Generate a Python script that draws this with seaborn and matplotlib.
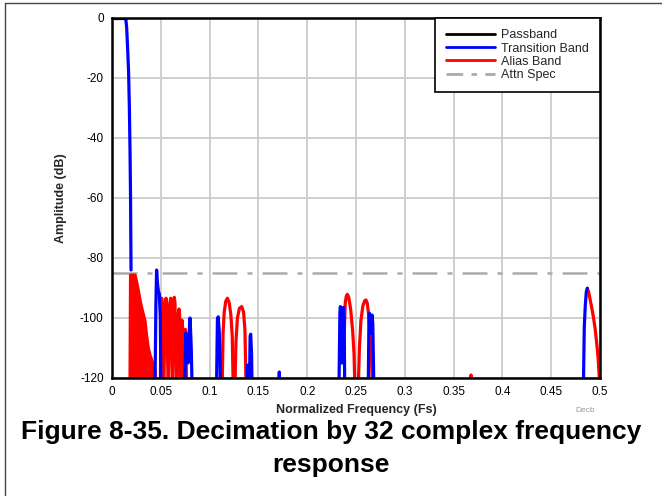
import numpy as np
import matplotlib
matplotlib.use("Agg")
import matplotlib.pyplot as plt
from matplotlib.lines import Line2D
import seaborn as sns

# frequency (Fs) / amplitude (dB) values
passband_f = [0.0, 0.0140]
passband_db = [0.0, 0.0]

# transition band pieces (blue)
trans_main_f = [0.0140, 0.0150, 0.0160, 0.0170, 0.0178, 0.0185, 0.0190, 0.0195]
trans_main_db = [0.0, -3.0, -10.0, -18.0, -30.0, -45.0, -60.0, -84.0]

trans_a_f = [0.0440, 0.0450, 0.0457, 0.0465, 0.0475, 0.0485, 0.0495, 0.0502]
trans_a_db = [-125.0, -95.0, -84.0, -88.0, -91.0, -92.0, -100.0, -125.0]

trans_b_f = [0.0745, 0.0755, 0.0765, 0.0780, 0.0790, 0.0800, 0.0812, 0.0822]
trans_b_db = [-125.0, -105.0, -106.0, -115.0, -105.0, -100.0, -110.0, -125.0]

trans_c_f = [0.1070, 0.1080, 0.1088, 0.1098, 0.1105, 0.1112]
trans_c_db = [-125.0, -100.5, -99.6, -104.0, -110.0, -125.0]

trans_d_f = [0.1384, 0.1388, 0.1392, 0.1408, 0.1415, 0.1421, 0.1430, 0.1436]
trans_d_db = [-125.0, -115.7, -125.0, -125.0, -106.0, -105.4, -112.0, -125.0]

trans_e_f = [0.1708, 0.1714, 0.1720]
trans_e_db = [-125.0, -118.0, -125.0]

trans_f_f = [0.2325, 0.2335, 0.2340, 0.2348, 0.2355, 0.2362, 0.2370, 0.2378, 0.2385]
trans_f_db = [-125.0, -98.0, -96.2, -100.0, -115.0, -102.0, -96.5, -100.0, -125.0]

trans_g_f = [0.2625, 0.2633, 0.2638, 0.2645, 0.2655, 0.2665, 0.2672, 0.2684]
trans_g_db = [-125.0, -99.0, -98.4, -105.0, -105.0, -99.0, -102.0, -125.0]

trans_h_f = [0.4829, 0.4839, 0.4849, 0.4860, 0.4870]
trans_h_db = [-125.0, -103.0, -96.0, -91.2, -90.1]

# alias band pieces (red)
alias_dense_f = [0.0184, 0.0190, 0.0236, 0.0252, 0.0269, 0.0293, 0.0314, 0.0338,
                 0.0355, 0.0372, 0.0389, 0.0407, 0.0424, 0.0441, 0.0445]
alias_dense_db = [-125.0, -85.7, -85.7, -87.9, -90.7, -95.0, -97.9, -101.0,
                  -106.0, -110.0, -112.3, -114.0, -116.0, -117.3, -125.0]

alias_a_f = [0.0495, 0.0502, 0.0509, 0.0516, 0.0530,
             0.0546, 0.0553, 0.0560, 0.0576,
             0.0594, 0.0601, 0.0608, 0.0620,
             0.0632, 0.0638, 0.0645, 0.0662,
             0.0680, 0.0686, 0.0692, 0.0702,
             0.0712, 0.0717, 0.0722, 0.0734,
             0.0746, 0.0751, 0.0756, 0.0765]
alias_a_db = [-125.0, -95.0, -93.4, -95.0, -125.0,
              -95.0, -93.4, -95.0, -125.0,
              -95.0, -93.4, -95.0, -125.0,
              -94.7, -93.1, -94.7, -125.0,
              -98.5, -97.0, -98.5, -125.0,
              -102.0, -100.7, -102.0, -125.0,
              -105.0, -103.8, -105.0, -125.0]

alias_b_f = [0.1128, 0.1138, 0.1150, 0.1165, 0.1182, 0.1200, 0.1218, 0.1232, 0.1243]
alias_b_db = [-125.0, -105.0, -98.0, -94.5, -93.4, -94.8, -99.0, -106.0, -125.0]

alias_c_f = [0.1258, 0.1270, 0.1285, 0.1305, 0.1329, 0.1348, 0.1362, 0.1375]
alias_c_db = [-125.0, -108.0, -100.0, -96.8, -96.2, -98.0, -104.0, -125.0]

alias_d_f = [0.2375, 0.2390, 0.2400, 0.2411, 0.2425, 0.2445, 0.2465, 0.2480, 0.2490]
alias_d_db = [-110.0, -95.0, -92.8, -92.1, -93.0, -97.0, -104.0, -112.0, -125.0]

alias_e_f = [0.2522, 0.2535, 0.2550, 0.2570, 0.2590, 0.2602, 0.2615, 0.2630, 0.2645, 0.2660, 0.2668]
alias_e_db = [-125.0, -110.0, -101.0, -96.0, -94.2, -94.0, -95.0, -99.0, -106.0, -115.0, -125.0]

alias_f_f = [0.3672, 0.3678, 0.3684]
alias_f_db = [-125.0, -119.0, -125.0]

alias_g_f = [0.4870, 0.4885, 0.4900, 0.4915, 0.4932, 0.4950, 0.4966, 0.4980, 0.4993, 0.4996]
alias_g_db = [-90.1, -91.5, -94.0, -96.5, -99.6, -103.5, -108.3, -113.0, -120.0, -125.0]

attn_spec_db = -85.0

x_ticks = [0, 0.05, 0.1, 0.15, 0.2, 0.25, 0.3, 0.35, 0.4, 0.45, 0.5]
y_ticks = [0, -20, -40, -60, -80, -100, -120]

sns.set_style("white")
plt.rcParams["font.family"] = ["Liberation Sans", "DejaVu Sans"]
plt.rcParams["axes.unicode_minus"] = False

fig = plt.figure(figsize=(6.62, 4.96), dpi=100)
ax = fig.add_axes([112 / 662, 1 - 378 / 496, 488 / 662, 360 / 496])

for x in x_ticks:
    ax.axvline(x, color="#cfcfcf", lw=1.4, zorder=0)
for y in y_ticks:
    ax.axhline(y, color="#cfcfcf", lw=1.4, zorder=0)

ax.axhline(attn_spec_db, color="#aaaaaa", lw=1.8, dashes=(10, 4, 2, 4), zorder=1)

lw = 2.3
sns.lineplot(x=passband_f, y=passband_db, color="black", lw=lw, sort=False, estimator=None, ax=ax)

# dense alias region looks solid in the reference
ax.fill_between(alias_dense_f, alias_dense_db, -125, color="red", lw=0, zorder=2)
sns.lineplot(x=alias_dense_f, y=alias_dense_db, color="red", lw=lw, sort=False, estimator=None, ax=ax)

alias_parts = [(alias_a_f, alias_a_db), (alias_b_f, alias_b_db), (alias_c_f, alias_c_db),
               (alias_d_f, alias_d_db), (alias_e_f, alias_e_db), (alias_f_f, alias_f_db),
               (alias_g_f, alias_g_db)]
for f, db in alias_parts:
    sns.lineplot(x=f, y=db, color="red", lw=lw, sort=False, estimator=None, ax=ax)

trans_parts = [(trans_main_f, trans_main_db), (trans_a_f, trans_a_db), (trans_b_f, trans_b_db),
               (trans_c_f, trans_c_db), (trans_d_f, trans_d_db), (trans_e_f, trans_e_db),
               (trans_f_f, trans_f_db), (trans_g_f, trans_g_db), (trans_h_f, trans_h_db)]
for f, db in trans_parts:
    sns.lineplot(x=f, y=db, color="blue", lw=lw, sort=False, estimator=None, ax=ax)

ax.set_xlim(0, 0.5)
ax.set_ylim(-120, 0)
ax.set_xticks(x_ticks)
ax.set_xticklabels([f"{v:g}" for v in x_ticks])
ax.set_yticks(y_ticks)
ax.tick_params(length=0, labelsize=8.5, pad=6, colors="black")

for side in ["left", "right", "top", "bottom"]:
    ax.spines[side].set_visible(True)
    ax.spines[side].set_color("black")
    ax.spines[side].set_linewidth(1.8)

ax.set_xlabel("Normalized Frequency (Fs)", fontsize=9, fontweight="bold")
ax.set_ylabel("Amplitude (dB)", fontsize=9, fontweight="bold")
ax.xaxis.set_label_coords(0.5, -0.072)
ax.yaxis.set_label_coords(-0.092, 0.5)

handles = [
    Line2D([], [], color="black", lw=2),
    Line2D([], [], color="blue", lw=2),
    Line2D([], [], color="red", lw=2),
    Line2D([], [], color="#aaaaaa", lw=2, dashes=(6, 3, 2, 3)),
]
labels = ["Passband", "Transition Band", "Alias Band", "Attn Spec"]
leg = ax.legend(handles, labels, loc="upper right", borderaxespad=0, fontsize=9,
                handlelength=3.9, handletextpad=0.5, labelspacing=0.1,
                fancybox=False, framealpha=1, borderpad=0.9)
leg.get_frame().set_edgecolor("black")
leg.get_frame().set_linewidth(1.2)

fig.text(585 / 662, 1 - 410 / 496, "Decb", fontsize=6, color="#999999", ha="center", va="center")
fig.text(0.5, 1 - 432 / 496, "Figure 8-35. Decimation by 32 complex frequency",
         fontsize=19, fontweight="bold", ha="center", va="center", color="black")
fig.text(0.5, 1 - 465 / 496, "response", fontsize=19, fontweight="bold", ha="center", va="center",
         color="black")

# outer frame of the page figure (left and top edges show)
fig.add_artist(Line2D([4.5 / 662, 4.5 / 662], [0, 1 - 2.5 / 496], transform=fig.transFigure,
                      color="#444444", lw=1))
fig.add_artist(Line2D([4.5 / 662, 1], [1 - 2.5 / 496, 1 - 2.5 / 496], transform=fig.transFigure,
                      color="#444444", lw=1))

fig.savefig("out.png", dpi=100)
